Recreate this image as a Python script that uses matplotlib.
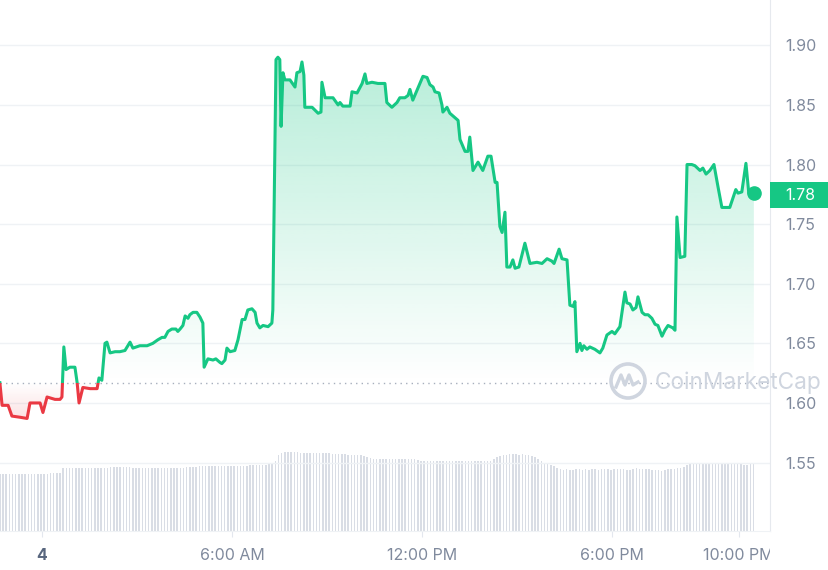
import numpy as np
import matplotlib.pyplot as plt
from matplotlib.path import Path
from matplotlib.patches import Rectangle, Circle
from matplotlib.lines import Line2D
from matplotlib.transforms import Bbox, TransformedBbox

plt.rcParams['font.family'] = ['Inter', 'DejaVu Sans']

# Colors
GREEN = "#16c784"
RED = "#ea3943"
GRID = "#eff2f5"
LABEL = "#808a9d"
VOL = "#d9dde5"
MARK = "#cfd5df"

W, H = 829, 570

# ---------------------------------------------------------------------------
# Data: hours since midnight, price in USD
# ---------------------------------------------------------------------------
hours = [
    -1.33, -1.26, -1.07, -0.95, -0.69, -0.47, -0.38, -0.06, 0.03, 0.16,
    0.41, 0.57, 0.63, 0.69, 0.76, 0.88, 1.04, 1.11, 1.17, 1.29,
    1.52, 1.74, 1.80, 1.89, 1.99, 2.05, 2.15, 2.31, 2.46, 2.62,
    2.78, 2.87, 3.09, 3.32, 3.50, 3.66, 3.79, 3.88, 3.98, 4.10,
    4.23, 4.29, 4.36, 4.45, 4.52, 4.61, 4.67, 4.77, 4.89, 4.99,
    5.08, 5.12, 5.24, 5.40, 5.49, 5.62, 5.68, 5.78, 5.84, 5.94,
    6.09, 6.19, 6.32, 6.41, 6.50, 6.63, 6.73, 6.79, 6.88, 6.98,
    7.14, 7.26, 7.29, 7.39, 7.45, 7.51, 7.55, 7.61, 7.67, 7.83,
    7.99, 8.05, 8.15, 8.21, 8.27, 8.30, 8.53, 8.72, 8.81, 8.84,
    8.94, 9.19, 9.35, 9.41, 9.50, 9.73, 9.79, 9.95, 10.11, 10.20,
    10.26, 10.42, 10.61, 10.83, 10.89, 11.05, 11.21, 11.30, 11.46, 11.56,
    11.62, 11.71, 12.03, 12.16, 12.25, 12.35, 12.41, 12.54, 12.63, 12.66,
    12.79, 12.88, 13.01, 13.14, 13.20, 13.36, 13.45, 13.51, 13.61, 13.77,
    13.92, 14.08, 14.18, 14.31, 14.37, 14.46, 14.53, 14.62, 14.68, 14.78,
    14.87, 14.94, 15.06, 15.25, 15.41, 15.63, 15.79, 15.95, 16.10, 16.17,
    16.33, 16.42, 16.58, 16.67, 16.77, 16.83, 16.89, 16.99, 17.05, 17.11,
    17.21, 17.30, 17.46, 17.62, 17.71, 17.84, 18.00, 18.09, 18.25, 18.41,
    18.47, 18.57, 18.66, 18.76, 18.82, 18.95, 19.04, 19.14, 19.26, 19.36,
    19.45, 19.58, 19.67, 19.77, 19.92, 19.99, 20.05, 20.15, 20.30, 20.37,
    20.52, 20.62, 20.78, 20.87, 20.97, 21.09, 21.22, 21.35, 21.47, 21.63,
    21.72, 21.91, 21.98, 22.10, 22.23, 22.32, 22.48,
]
price = [
    1.617, 1.598, 1.598, 1.589, 1.588, 1.587, 1.600, 1.600, 1.592, 1.605,
    1.603, 1.603, 1.605, 1.647, 1.628, 1.630, 1.630, 1.617, 1.600, 1.613,
    1.612, 1.612, 1.621, 1.619, 1.650, 1.651, 1.642, 1.643, 1.643, 1.644,
    1.651, 1.646, 1.648, 1.648, 1.650, 1.653, 1.655, 1.655, 1.660, 1.662,
    1.662, 1.660, 1.662, 1.665, 1.673, 1.671, 1.674, 1.676, 1.676, 1.672,
    1.667, 1.630, 1.637, 1.636, 1.637, 1.634, 1.633, 1.636, 1.646, 1.643,
    1.644, 1.653, 1.670, 1.670, 1.678, 1.679, 1.676, 1.667, 1.663, 1.665,
    1.664, 1.667, 1.678, 1.888, 1.890, 1.888, 1.832, 1.877, 1.871, 1.871,
    1.865, 1.877, 1.878, 1.886, 1.875, 1.848, 1.848, 1.843, 1.844, 1.869,
    1.856, 1.856, 1.850, 1.852, 1.849, 1.849, 1.861, 1.860, 1.868, 1.876,
    1.868, 1.869, 1.868, 1.868, 1.852, 1.848, 1.852, 1.856, 1.856, 1.858,
    1.863, 1.854, 1.874, 1.873, 1.867, 1.865, 1.861, 1.860, 1.850, 1.844,
    1.848, 1.843, 1.840, 1.837, 1.821, 1.811, 1.811, 1.823, 1.795, 1.802,
    1.795, 1.807, 1.807, 1.785, 1.785, 1.748, 1.743, 1.760, 1.714, 1.714,
    1.720, 1.713, 1.714, 1.734, 1.717, 1.718, 1.717, 1.721, 1.719, 1.717,
    1.729, 1.721, 1.720, 1.682, 1.681, 1.685, 1.643, 1.650, 1.644, 1.648,
    1.645, 1.647, 1.645, 1.642, 1.646, 1.657, 1.660, 1.658, 1.664, 1.693,
    1.684, 1.683, 1.678, 1.680, 1.689, 1.676, 1.674, 1.674, 1.671, 1.666,
    1.665, 1.656, 1.661, 1.665, 1.663, 1.661, 1.756, 1.722, 1.723, 1.800,
    1.800, 1.799, 1.795, 1.797, 1.792, 1.795, 1.800, 1.781, 1.764, 1.764,
    1.764, 1.779, 1.776, 1.777, 1.801, 1.776, 1.776,
]
open_price = 1.617

# Volume, one bar every 6 minutes starting at the first price point (relative units)
vol_start = -1.33
vol_step = 0.1
volume = [
    57, 57, 57, 57, 57, 57, 57, 57, 57, 57, 57, 57, 57, 57, 57, 57, 58, 58, 58, 58,
    63, 63, 63, 63, 63, 63, 63, 63, 63, 63, 63, 63, 63, 63, 63,
    64, 64, 64, 64, 64, 64, 64,
    63, 63, 63, 63, 63, 63, 63, 63, 63, 63, 63, 63, 63, 63, 63, 63, 63, 64, 64, 64, 64,
    65, 65, 65, 65, 65, 65, 65, 65, 65, 65, 65, 65, 65, 65, 65, 65, 66, 66, 66, 66, 66, 66,
    67, 68, 70,
    76, 78, 79, 79, 79, 79, 79,
    78, 78, 78, 78, 78, 78, 78, 78, 78, 78, 77, 77, 77, 77, 77, 76,
    76, 76, 76, 76, 75, 74, 73,
    72, 72, 72, 72, 72, 72, 72, 72, 72, 72, 72, 72, 72, 72, 71,
    70, 70, 70, 70, 70, 70, 70, 70, 70, 70, 70, 70, 70, 70, 70, 70, 70, 70, 70, 70, 70, 70, 70,
    72, 74, 75, 76,
    76, 77, 77, 77, 76, 77, 76, 76, 75, 74,
    72, 70, 68, 67, 66, 65, 63, 62,
    61, 62, 61, 61, 62, 62, 61, 62, 61, 62, 62, 61, 62, 62, 62, 61, 62, 62, 62, 62,
    61, 61, 62, 63, 62, 62, 62, 62, 61, 61, 61, 60, 61, 62, 62, 62, 63, 63,
    64, 66,
    68, 68, 68, 68, 68, 68, 68, 68, 68, 68, 68, 68, 68, 68, 68, 68, 68,
    66, 66, 67, 67,
]

tick_hours = [0, 6, 12, 18, 22]
tick_labels = ["4", "6:00 AM", "12:00 PM", "6:00 PM", "10:00 PM"]
price_ticks = [1.55, 1.60, 1.65, 1.70, 1.75, 1.80, 1.85, 1.90]

hours = np.array(hours)
price = np.array(price)
vol_hours = vol_start + vol_step * np.arange(len(volume))

XMIN, XMAX = -1.326, 22.99
YMIN, YMAX = 1.4926, 1.938

fig = plt.figure(figsize=(W / 100, H / 100), dpi=100)
rect = [0, 39 / H, 770 / W, 531 / H]

# Volume axes in the background
axv = fig.add_axes(rect)
axv.bar(vol_hours, volume, width=0.045, color=VOL, linewidth=0)
axv.set_xlim(XMIN, XMAX)
axv.set_ylim(0, 531)
axv.axis("off")

ax = fig.add_axes(rect)
ax.patch.set_alpha(0)

# Gradient fill above the open price (green) and below it (red)
up = ax.fill_between(hours, price, open_price, where=price >= open_price,
                     interpolate=True, facecolor="none", edgecolor="none")
dn = ax.fill_between(hours, price, open_price, where=price <= open_price,
                     interpolate=True, facecolor="none", edgecolor="none")

g = np.zeros((256, 1, 4))
g[..., :3] = plt.matplotlib.colors.to_rgb(GREEN)
g[:, 0, 3] = np.linspace(0.0, 0.31, 256)
im = ax.imshow(g, extent=[XMIN, XMAX, open_price, 1.89], origin="lower",
               aspect="auto", zorder=1, interpolation="bilinear")
im.set_clip_path(Path.make_compound_path(*up.get_paths()), transform=ax.transData)

r = np.zeros((256, 1, 4))
r[..., :3] = plt.matplotlib.colors.to_rgb(RED)
r[:, 0, 3] = np.linspace(0.16, 0.0, 256)
im2 = ax.imshow(r, extent=[XMIN, XMAX, 1.585, open_price], origin="lower",
                aspect="auto", zorder=1, interpolation="bilinear")
im2.set_clip_path(Path.make_compound_path(*dn.get_paths()), transform=ax.transData)

# Open price reference line
ax.axhline(open_price, color="#a7afbd", linestyle=(0, (1, 3)), linewidth=1, zorder=2)

# Price line, green above the open price and red below
top_clip = Rectangle((XMIN, open_price), XMAX - XMIN, 1, transform=ax.transData)
bot_clip = Rectangle((XMIN, open_price - 1), XMAX - XMIN, 1, transform=ax.transData)
lg, = ax.plot(hours, price, color=GREEN, linewidth=2.2, zorder=4, solid_joinstyle="round")
lr, = ax.plot(hours, price, color=RED, linewidth=2.2, zorder=4, solid_joinstyle="round")
lg.set_clip_path(top_clip)
lr.set_clip_path(bot_clip)
ax.plot(hours[-1], price[-1], "o", color=GREEN, markersize=9.5, zorder=5)

ax.set_xlim(XMIN, XMAX)
ax.set_ylim(YMIN, YMAX)

ax.set_yticks(price_ticks, [f"{t:.2f}" for t in price_ticks])
ax.yaxis.tick_right()
ax.tick_params(axis="y", length=0, pad=11, labelsize=11.5, labelcolor=LABEL)
ax.grid(axis="y", color=GRID, linewidth=1)
ax.set_axisbelow(True)

ax.set_xticks(tick_hours, tick_labels)
ax.tick_params(axis="x", length=4, color="#e3e7ee", pad=8, labelsize=11.5, labelcolor=LABEL)
xl = ax.get_xticklabels()
xl[0].set_fontweight("bold")
xl[0].set_color("#58667e")
clipbox = TransformedBbox(Bbox.from_extents(0, 0, 770 / W, 1), fig.transFigure)
for lbl in xl:
    lbl.set_clip_box(clipbox)
    lbl.set_clip_on(True)

for side in ["top", "left"]:
    ax.spines[side].set_visible(False)
ax.spines["right"].set_color("#e6e9ee")
ax.spines["bottom"].set_color(GRID)

# Watermark
fig.add_artist(Circle((6.28, 1.89), 0.17, transform=fig.dpi_scale_trans,
                      fill=False, edgecolor=MARK, linewidth=2.6, zorder=3))
fig.add_artist(Line2D([6.16, 6.21, 6.25, 6.29, 6.33, 6.38],
                      [1.83, 1.95, 1.85, 1.95, 1.85, 1.88],
                      transform=fig.dpi_scale_trans, color=MARK, linewidth=2.4,
                      solid_joinstyle="round", zorder=3))
fig.text(655 / W, 1 - 383 / H, "CoinMarketCap", fontsize=16.3, color=MARK,
         va="center", ha="left", zorder=3)

# Last price tag
fig.add_artist(Rectangle((770 / W, 1 - 208 / H), 59 / W, 26 / H,
                         transform=fig.transFigure, facecolor=GREEN, edgecolor="none"))
fig.text(800 / W, 1 - 195 / H, f"{price[-1]:.2f}", color="white", fontsize=11.5,
         ha="center", va="center")

plt.savefig("out.png", dpi=100)
print("Saved out.png")
